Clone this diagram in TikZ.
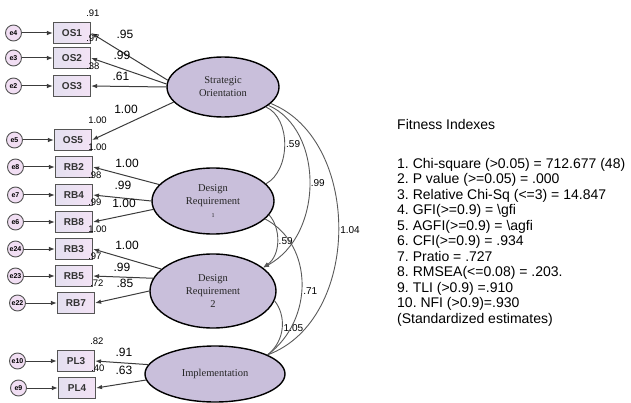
\documentclass[tikz,border=0pt]{standalone}
\usepackage{fontspec}
\setmainfont{Liberation Serif}
\setsansfont{Liberation Sans}
\usetikzlibrary{arrows.meta,positioning,shapes.geometric}
\frenchspacing
\definecolor{latfill}{RGB}{201,191,219}
\definecolor{indl}{RGB}{228,224,240}
\definecolor{indr}{RGB}{243,226,245}
\definecolor{errfill}{RGB}{241,222,243}
\definecolor{boxline}{RGB}{85,85,85}
\definecolor{arrline}{RGB}{60,60,60}
\tikzset{>={Latex[length=6pt,width=4.5pt]}}
\tikzset{ind/.style={rectangle, draw=boxline, line width=1.1pt, left color=indl, right color=indr, minimum width=37pt, minimum height=21pt, inner sep=0pt, text=black!80, font=\sffamily\bfseries\fontsize{10}{10}\selectfont}}
\tikzset{err/.style={circle, draw=boxline, line width=0.9pt, fill=errfill, minimum size=16pt, inner sep=0.5pt, font=\sffamily\bfseries\fontsize{7}{7}\selectfont}}
\tikzset{lat/.style={ellipse, draw, line width=1.4pt, fill=latfill, inner sep=0pt, align=center, text=black!85, font=\fontsize{10.5}{13}\selectfont}}
\tikzset{load/.style={->, draw=arrline, line width=1pt}}
\tikzset{cov/.style={draw=black!65, line width=0.9pt}}
\tikzset{wt/.style={inner sep=0pt, font=\sffamily\fontsize{12}{12}\selectfont}}
\tikzset{rsq/.style={inner sep=0pt, font=\sffamily\fontsize{9.5}{9.5}\selectfont}}
\tikzset{covlab/.style={inner sep=1pt, anchor=west, font=\sffamily\fontsize{10}{10}\selectfont}}
\tikzset{fitfont/.style={inner sep=0pt, align=left, font=\sffamily\fontsize{14}{15.5}\selectfont}}
\begin{document}
\begin{tikzpicture}[x=1pt,y=-1pt]
      \useasboundingbox (0,0) rectangle (631,403);
      \node[lat, minimum width=112pt, minimum height=60pt] (so) at (223,87) {Strategic\\Orientation};
      \node[lat, minimum width=122pt, minimum height=66pt] (dr1) at (213,201) {Design\\Requirement\\{\fontsize{6}{6}\selectfont 1}};
      \node[lat, minimum width=126pt, minimum height=74pt] (dr2) at (213,291) {Design\\Requirement\\2};
      \node[lat, minimum width=140pt, minimum height=56pt] (im) at (215,374) {Implementation};
      \node[ind] (os1) at (72,33) {OS1};
      \node[ind] (os2) at (72,58) {OS2};
      \node[ind] (os3) at (72,86) {OS3};
      \node[ind] (os5) at (73,140) {OS5};
      \node[ind] (rb2) at (74,167) {RB2};
      \node[ind] (rb4) at (74,195) {RB4};
      \node[ind] (rb8) at (74,222) {RB8};
      \node[ind] (rb3) at (74,249) {RB3};
      \node[ind] (rb5) at (74,276) {RB5};
      \node[ind] (rb7) at (76,303) {RB7};
      \node[ind] (pl3) at (76,361) {PL3};
      \node[ind] (pl4) at (77,388) {PL4};
      \node[err, left=31pt of os1] (e4) {e4};
      \node[err, left=31pt of os2] (e3) {e3};
      \node[err, left=31pt of os3] (e2) {e2};
      \node[err, left=31pt of os5] (e5) {e5};
      \node[err, left=31pt of rb2] (e8) {e8};
      \node[err, left=31pt of rb4] (e7) {e7};
      \node[err, left=31pt of rb8] (e6) {e6};
      \node[err, left=31pt of rb3] (e24) {e24};
      \node[err, left=31pt of rb5] (e23) {e23};
      \node[err, left=31pt of rb7] (e22) {e22};
      \node[err, left=31pt of pl3] (e10) {e10};
      \node[err, left=31pt of pl4] (e9) {e9};
      \draw[load] (e4) -- (os1);
      \draw[load] (e3) -- (os2);
      \draw[load] (e2) -- (os3);
      \draw[load] (e5) -- (os5);
      \draw[load] (e8) -- (rb2);
      \draw[load] (e7) -- (rb4);
      \draw[load] (e6) -- (rb8);
      \draw[load] (e24) -- (rb3);
      \draw[load] (e23) -- (rb5);
      \draw[load] (e22) -- (rb7);
      \draw[load] (e10) -- (pl3);
      \draw[load] (e9) -- (pl4);
      \draw[load] (so.173) -- (os1.east);
      \draw[load] (so.177) -- (os2.east);
      \draw[load] (so.180) -- (os3.east);
      \draw[load] (so.197) -- (os5.east);
      \draw[load] (dr1.163) -- (rb2.east);
      \draw[load] (dr1.180) -- (rb4.east);
      \draw[load] (dr1.188) -- (rb8.east);
      \draw[load] (dr2.157) -- (rb3.east);
      \draw[load] (dr2.168) -- (rb5.east);
      \draw[load] (dr2.180) -- (rb7.east);
      \draw[load] (im.172) -- (pl3.east);
      \draw[load] (im.185) -- (pl4.east);
      \node[wt] (w1) at (125,34) {.95};
      \node[wt] (w2) at (122,55) {.99};
      \node[wt] (w3) at (121,76) {.61};
      \node[wt] (w5) at (126,109) {1.00};
      \node[wt] (w6) at (127,163) {1.00};
      \node[wt] (w7) at (123,185) {.99};
      \node[wt] (w8) at (124,203) {1.00};
      \node[wt] (w9) at (127,245) {1.00};
      \node[wt] (w10) at (122,267) {.99};
      \node[wt] (w11) at (125,283) {.85};
      \node[wt] (w12) at (124,352) {.91};
      \node[wt] (w13) at (124,370) {.63};
      \node[rsq, above right=5pt and -5pt of os1.north east] (r1) {.91};
      \node[rsq, above right=5pt and -5pt of os2.north east] (r2) {.97};
      \node[rsq, above right=5pt and -5pt of os3.north east] (r3) {.38};
      \node[rsq, above right=5pt and -4pt of os5.north east] (r5) {1.00};
      \node[rsq, above right=5pt and -5pt of rb2.north east] (r6) {1.00};
      \node[rsq, above right=5pt and -5pt of rb4.north east] (r7) {.98};
      \node[rsq, above right=5pt and -5pt of rb8.north east] (r8) {.99};
      \node[rsq, above right=5pt and -5pt of rb3.north east] (r9) {1.00};
      \node[rsq, above right=5pt and -5pt of rb5.north east] (r10) {.97};
      \node[rsq, above right=5pt and -5pt of rb7.north east] (r11) {.72};
      \node[rsq, above right=5pt and -5pt of pl3.north east] (r12) {.82};
      \node[rsq, above right=5pt and -5pt of pl4.north east] (r13) {.40};
      \draw[cov] (so.-25) .. controls (291,118) and (291,170) .. (dr1.18) node[covlab, pos=0.5] (c1) {.59};
      \draw[cov, ->] (so.-22) .. controls (324,130) and (324,235) .. (dr2.25) node[covlab, pos=0.5] (c2) {.99};
      \draw[cov] (so.-19) .. controls (362,140) and (362,320) .. (im.20) node[covlab, pos=0.5] (c3) {1.04};
      \draw[cov, ->] (dr1.-14) .. controls (281,228) and (281,255) .. (dr2.25) node[covlab, pos=0.5] (c4) {.59};
      \draw[cov] (dr1.-19) .. controls (314,245) and (314,320) .. (im.20) node[covlab, pos=0.55] (c5) {.71};
      \draw[cov] (dr2.-9) .. controls (286,315) and (286,340) .. (im.20) node[covlab, pos=0.5] (c6) {1.05};
      \node[fitfont, anchor=west] (fith) at (397,124) {Fitness Indexes};
      \node[fitfont, anchor=north west] (fitl) at (397,158) {1. Chi-square (>0.05) = 712.677 (48)\\2. P value (>=0.05) = .000\\3. Relative Chi-Sq (<=3) = 14.847\\4. GFI(>=0.9) = \textbackslash gfi\\5. AGFI(>=0.9) = \textbackslash agfi\\6. CFI(>=0.9) = .934\\7. Pratio = .727\\8. RMSEA(<=0.08) = .203.\\9. TLI (>0.9) =.910\\10. NFI (>0.9)=.930\\(Standardized estimates)};
    \end{tikzpicture}
\end{document}
